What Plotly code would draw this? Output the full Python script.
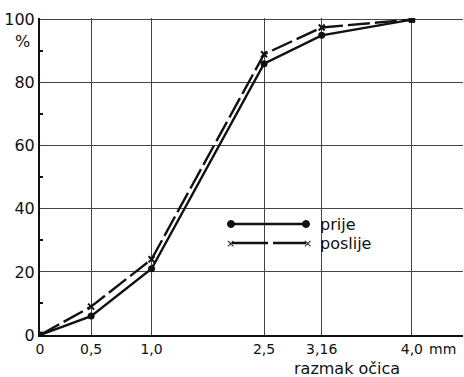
import plotly.graph_objects as go

# sieve sizes (mm) and their drawn position along the (hand-drawn, non-linear) x axis
sieve_labels = ["0", "0,5", "1,0", "2,5", "3,16", "4,0"]
axis_pos = [0.0, 0.55, 1.2, 2.41, 3.03, 4.0]
prije = [0, 6, 21, 86, 95, 100]
poslije = [0, 9, 24, 89, 97.5, 100]
y_ticks = [0, 20, 40, 60, 80, 100]

W, H = 464, 377
L, R, T, B = 40, 1, 18, 42
X_MAX = 4.55

FONT = "DejaVu Sans"

fig = go.Figure()
fig.add_trace(go.Scatter(
    x=axis_pos, y=prije, name="prije", mode="lines+markers",
    line=dict(color="#111", width=2.4),
    marker=dict(symbol="circle", size=7, color="#111"),
))
fig.add_trace(go.Scatter(
    x=axis_pos, y=poslije, name="poslije", mode="lines+markers",
    line=dict(color="#111", width=2.4, dash="22px,5px"),
    marker=dict(symbol="x-thin", size=6, color="#111", line=dict(width=2, color="#111")),
))

def px(xp):
    return (xp - L) / (W - L - R)

def py(yp):
    return 1 - (yp - T) / (H - T - B)

shapes = []
# custom legend samples
shapes.append(dict(type="line", xref="paper", yref="paper", x0=px(231), x1=px(306),
                   y0=py(224), y1=py(224), line=dict(color="#111", width=2.4)))
for xc in (231, 306):
    shapes.append(dict(type="circle", xref="paper", yref="paper",
                       x0=px(xc - 3.5), x1=px(xc + 3.5), y0=py(224 + 3.5), y1=py(224 - 3.5),
                       fillcolor="#111", line=dict(color="#111", width=1)))
shapes.append(dict(type="line", xref="paper", yref="paper", x0=px(232), x1=px(306),
                   y0=py(243), y1=py(243), line=dict(color="#111", width=2.4, dash="36px,5px")))

annotations = [
    dict(x=px(318), y=py(224), xref="paper", yref="paper", text="prije", showarrow=False,
         xanchor="left", yanchor="middle", font=dict(family=FONT, size=16, color="#111")),
    dict(x=px(318), y=py(243), xref="paper", yref="paper", text="poslije", showarrow=False,
         xanchor="left", yanchor="middle", font=dict(family=FONT, size=16, color="#111")),
    dict(x=px(230), y=py(243), xref="paper", yref="paper", text="×", showarrow=False,
         xanchor="center", yanchor="middle", font=dict(family=FONT, size=11, color="#111")),
    dict(x=px(307), y=py(243), xref="paper", yref="paper", text="×", showarrow=False,
         xanchor="center", yanchor="middle", font=dict(family=FONT, size=11, color="#111")),
    dict(x=px(22), y=py(42), xref="paper", yref="paper", text="%", showarrow=False,
         xanchor="center", yanchor="middle", font=dict(family=FONT, size=16, color="#111")),
    dict(x=px(442), y=py(349), xref="paper", yref="paper", text="mm", showarrow=False,
         xanchor="center", yanchor="middle", font=dict(family=FONT, size=14, color="#111")),
    dict(x=px(347), y=py(368), xref="paper", yref="paper", text="razmak očica", showarrow=False,
         xanchor="center", yanchor="middle", font=dict(family=FONT, size=16, color="#111")),
]

fig.update_layout(
    width=W, height=H,
    margin=dict(l=L, r=R, t=T, b=B, pad=0, autoexpand=False),
    paper_bgcolor="white", plot_bgcolor="white",
    showlegend=False,
    font=dict(family=FONT, size=16, color="#111"),
    shapes=shapes, annotations=annotations,
    xaxis=dict(
        range=[0, X_MAX], tickmode="array", tickvals=axis_pos, ticktext=sieve_labels,
        showgrid=True, gridcolor="#444", gridwidth=1, automargin=False,
        showline=True, linecolor="#111", linewidth=2,
        zeroline=False, ticks="", tickfont=dict(size=14),
    ),
    yaxis=dict(
        range=[0, 100.5], tickmode="array", tickvals=y_ticks,
        showgrid=True, gridcolor="#444", gridwidth=1, automargin=False,
        showline=True, linecolor="#111", linewidth=2,
        zeroline=False, ticks="", tickfont=dict(size=16),
        minor=dict(tickvals=[10, 30, 50, 70, 90], ticks="inside", ticklen=3,
                   tickcolor="#111", tickwidth=2, showgrid=False),
    ),
)

fig.write_html("out.html", config={"displayModeBar": False},
               post_script="document.body.style.margin='0';document.body.style.overflow='hidden';")
